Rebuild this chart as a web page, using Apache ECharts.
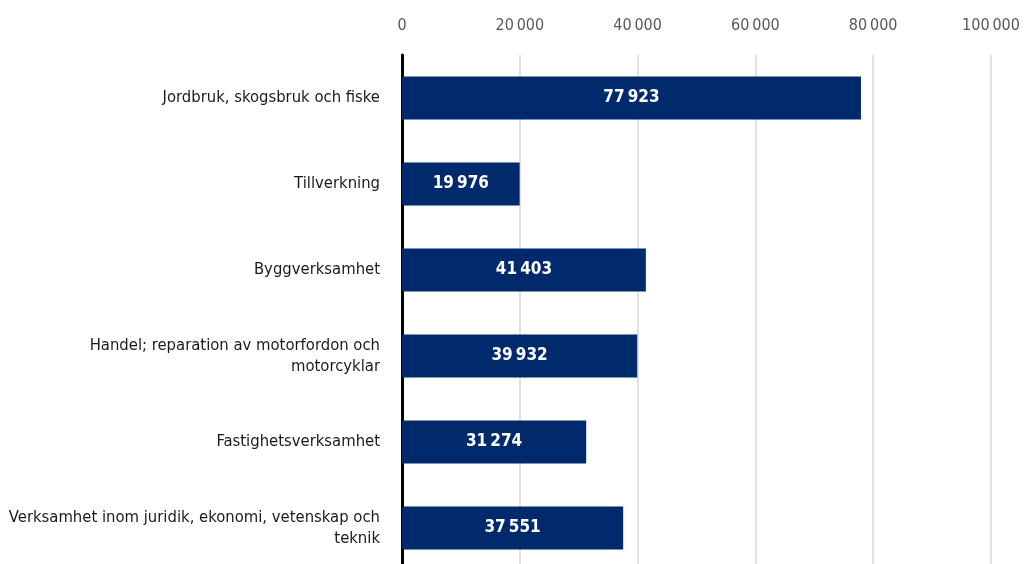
<!DOCTYPE html>
<html>
<head>
    <meta charset="utf-8">
    <title>Branscher</title>
    <script src="https://cdn.jsdelivr.net/npm/echarts@6/dist/echarts.min.js"></script>
    <style>
        html, body { margin: 0; padding: 0; background: #fff; }
        #chart { width: 1024px; height: 564px; }
    </style>
</head>
<body>
    <div id="chart"></div>
    <script>
    const categories = [
        'Jordbruk, skogsbruk och fiske',
        'Tillverkning',
        'Byggverksamhet',
        'Handel; reparation av motorfordon och\nmotorcyklar',
        'Fastighetsverksamhet',
        'Verksamhet inom juridik, ekonomi, vetenskap och\nteknik'
    ];
    const values = [77923, 19976, 41403, 39932, 31274, 37551];

    const font = '"Liberation Sans Narrow", "DejaVu Sans", sans-serif';
    const stretch = 'condensed';

    // tusental med smalt mellanslag, t.ex. 77 923
    function fmt(v) {
        return String(v).replace(/\B(?=(\d{3})+(?!\d))/g, '\u202f');
    }

    const chart = echarts.init(document.getElementById('chart'));
    chart.setOption({
        animation: false,
        grid: { left: 402, right: 33, top: 55, height: 516, outerBoundsMode: 'none' },
        xAxis: {
            type: 'value',
            position: 'top',
            min: 0,
            max: 100000,
            interval: 20000,
            axisLine: { show: false },
            axisTick: { show: false },
            axisLabel: {
                margin: 21,
                color: '#595959',
                fontSize: 16,
                fontStyle: stretch,
                fontFamily: font,
                formatter: fmt
            },
            splitLine: { lineStyle: { color: '#d9d9d9', width: 1.5 } }
        },
        yAxis: {
            type: 'category',
            data: categories,
            inverse: true,
            axisLine: { show: true, lineStyle: { color: '#000', width: 3 } },
            axisTick: { show: false },
            axisLabel: {
                margin: 22,
                color: '#1a1a1a',
                fontSize: 16.5,
                lineHeight: 21,
                fontStyle: stretch,
                fontFamily: font,
                align: 'right'
            }
        },
        series: [{
            type: 'bar',
            data: values,
            barWidth: 43,
            itemStyle: { color: '#002a6c' },
            label: {
                show: true,
                position: 'inside',
                color: '#fff',
                fontSize: 17,
                fontWeight: 'bold',
                fontStyle: stretch,
                fontFamily: font,
                formatter: p => fmt(p.value)
            }
        }]
    });
    </script>
</body>
</html>
